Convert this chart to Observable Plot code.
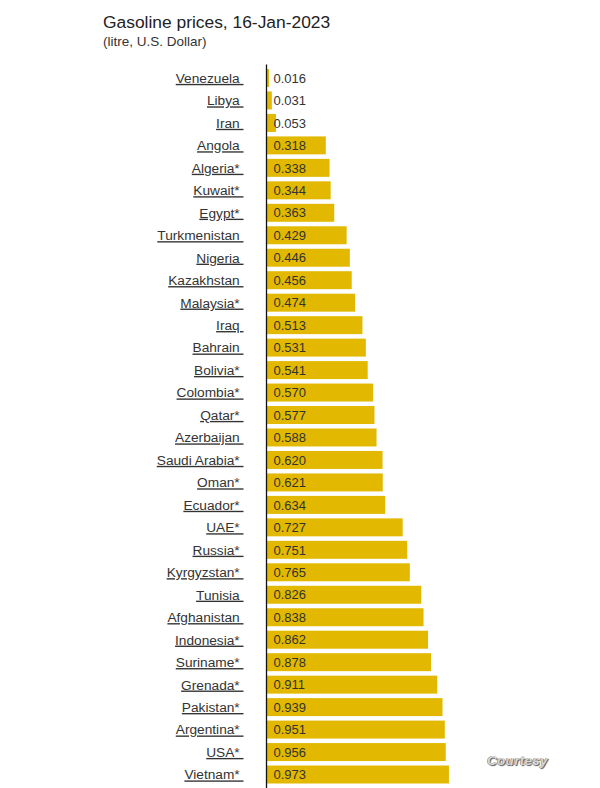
<!DOCTYPE html>
<html>
<head>
<meta charset="utf-8">
<script src="https://cdn.jsdelivr.net/npm/d3@7"></script>
<script src="https://cdn.jsdelivr.net/npm/@observablehq/plot@0.6"></script>
<style>
  html, body { margin: 0; padding: 0; background: #fff; }
  #wrap { position: relative; width: 600px; height: 788px; overflow: hidden; font-family: "Liberation Sans", Arial, sans-serif; }
  #title { position: absolute; left: 103px; top: 12px; font-size: 17.4px; color: #222; }
  #sub { position: absolute; left: 103px; top: 34px; font-size: 13.5px; color: #333; }
  #chart { position: absolute; left: 0; top: 55px; }
  #courtesy { position: absolute; left: 487px; top: 753px; font-size: 13.5px; font-style: italic; font-weight: bold; color: #d8d8d8; text-shadow: 1px 1px 1px #555, -0.5px -0.5px 0 #777; letter-spacing: 0.3px; }
</style>
</head>
<body>
<div id="wrap">
  <div id="title">Gasoline prices, 16-Jan-2023</div>
  <div id="sub">(litre, U.S. Dollar)</div>
  <div id="chart"></div>
  <div id="courtesy">Courtesy</div>
</div>
<script>
const countries = ["Venezuela", "Libya", "Iran", "Angola", "Algeria*", "Kuwait*", "Egypt*", "Turkmenistan", "Nigeria", "Kazakhstan", "Malaysia*", "Iraq", "Bahrain", "Bolivia*", "Colombia*", "Qatar*", "Azerbaijan", "Saudi Arabia*", "Oman*", "Ecuador*", "UAE*", "Russia*", "Kyrgyzstan*", "Tunisia", "Afghanistan", "Indonesia*", "Suriname*", "Grenada*", "Pakistan*", "Argentina*", "USA*", "Vietnam*"];
const prices = [0.016, 0.031, 0.053, 0.318, 0.338, 0.344, 0.363, 0.429, 0.446, 0.456, 0.474, 0.513, 0.531, 0.541, 0.570, 0.577, 0.588, 0.620, 0.621, 0.634, 0.727, 0.751, 0.765, 0.826, 0.838, 0.862, 0.878, 0.911, 0.939, 0.951, 0.956, 0.973];
const valueLabels = ["0.016", "0.031", "0.053", "0.318", "0.338", "0.344", "0.363", "0.429", "0.446", "0.456", "0.474", "0.513", "0.531", "0.541", "0.570", "0.577", "0.588", "0.620", "0.621", "0.634", "0.727", "0.751", "0.765", "0.826", "0.838", "0.862", "0.878", "0.911", "0.939", "0.951", "0.956", "0.973"];

const data = countries.map((c, i) => ({country: c, price: prices[i], label: valueLabels[i]}));

const chart = Plot.plot({
  width: 600,
  height: 733,
  marginLeft: 266,
  marginRight: 146,
  marginTop: 9.5,
  marginBottom: 0,
  style: {fontFamily: "'Liberation Sans', Arial, sans-serif", background: "transparent"},
  x: {domain: [0, 1], axis: null},
  y: {domain: countries, padding: 0.2, round: false, axis: null},
  marks: [
    Plot.barX(data, {x: "price", y: "country", fill: "#e2b900"}),
    Plot.text(data, {x: 0, y: "country", text: "label", textAnchor: "start", dx: 7, fontSize: 13, fill: "#333"}),
    Plot.text(data, {x: 0, y: "country", text: d => d.country + "\u00a0", textAnchor: "end", dx: -23, fontSize: 13.7, fill: "#333"}),
    Plot.ruleX([0], {stroke: "#111", strokeWidth: 1.3})
  ]
});
document.getElementById("chart").appendChild(chart);
// underline country labels
const groups = chart.querySelectorAll("g[aria-label='text']");
if (groups.length > 1) groups[1].setAttribute("text-decoration", "underline");
</script>
</body>
</html>
